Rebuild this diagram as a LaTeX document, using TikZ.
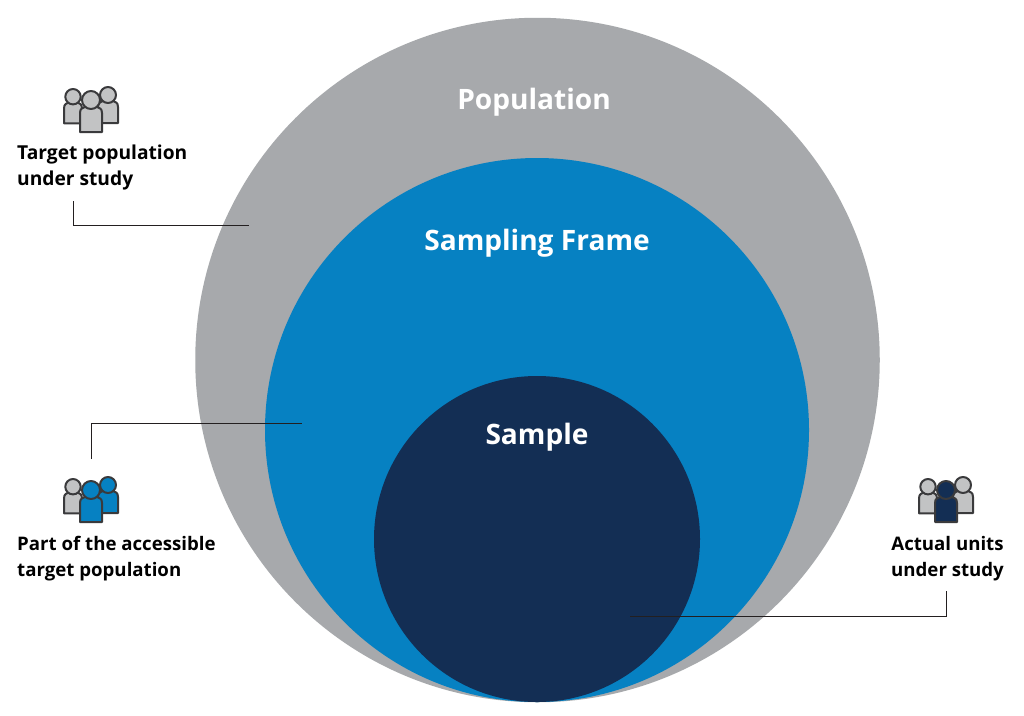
\documentclass[tikz,border=0pt]{standalone}
\usepackage{fontspec}
\setmainfont{Open Sans}
\definecolor{popgray}{HTML}{A7A9AC}
\definecolor{frameblue}{HTML}{0681C2}
\definecolor{samplenavy}{HTML}{132E54}
\definecolor{iconfill}{HTML}{C2C3C4}
\definecolor{iconline}{HTML}{3A3A3C}
\definecolor{leader}{HTML}{231F20}
\tikzset{
  circlebig/.style={circle,draw=none,inner sep=0pt,outer sep=0pt},
  title/.style={text=white,font=\fontsize{28.1}{32}\selectfont\bfseries,anchor=base,inner sep=0pt},
  caption/.style={text=black,font=\fontsize{19.2}{26}\selectfont\bfseries,inner sep=0pt,anchor=north west},
  captionsmall/.style={caption,font=\fontsize{18.65}{26}\selectfont\bfseries},
  leaderline/.style={draw=leader,line width=1pt},
  iconpart/.style={draw=iconline,line width=2pt,line join=round},
}
\newcommand{\oneperson}[6]{% x y headr halfwidth color bodyheight
  \begin{scope}[shift={(#1,#2)}]
    \path[iconpart,fill=#5] (-#4,#3+#6) -- (-#4,#3+4) .. controls (-#4,#3-1) and (-#4+3,#3-1) .. (-#4+5,#3-2)
      -- (#4-5,#3-2) .. controls (#4-3,#3-1) and (#4,#3-1) .. (#4,#3+4) -- (#4,#3+#6) -- cycle;
    \path[iconpart,fill=#5] (0,0) circle[radius=#3];
  \end{scope}}
\newcommand{\peopleicon}[5]{% x y left right middle
  \begin{scope}[shift={(#1,#2)}]
    \oneperson{23}{16.7}{7.7}{9}{#3}{19}
    \oneperson{58}{15}{8}{10}{#4}{20}
    \oneperson{41}{20}{9}{11}{#5}{23}
  \end{scope}}
\begin{document}
\begin{tikzpicture}[x=1pt,y=-1pt]
\useasboundingbox (0,0) rectangle (1024,715);
\fill[white] (0,0) rectangle (1024,715);
\node[circlebig,fill=popgray,minimum size=684.5pt] (pop) at (537.5,360) {};
\node[circlebig,fill=frameblue,minimum size=544pt] (frame) at (537,430) {};
\node[circlebig,fill=samplenavy,minimum size=326pt] (sample) at (537,539) {};
\node[title] (tpop) at (534,109) {Population};
\node[title] (tframe) at (537,250) {Sampling Frame};
\node[title] (tsample) at (537,444) {Sample};
\peopleicon{50}{80}{iconfill}{iconfill}{iconfill}
\peopleicon{50}{470}{iconfill}{frameblue}{frameblue}
\peopleicon{905}{470}{iconfill}{iconfill}{samplenavy}
\node[caption,align=left] (c1) at (17,144.5) {Target population\\under study};
\node[captionsmall,align=left] (c2) at (17,536.5) {Part of the accessible\\target population};
\node[captionsmall,align=center,anchor=north] (c3) at (947.5,536.5) {Actual units\\under study};
\coordinate (a1) at (73,201);
\coordinate (b1) at (249,225);
\coordinate (a2) at (91,459);
\coordinate (b2) at (302,423);
\coordinate (a3) at (946,591);
\coordinate (b3) at (630,616);
\draw[leaderline] (a1) |- (b1);
\draw[leaderline] (a2) |- (b2);
\draw[leaderline] (a3) |- (b3);
\end{tikzpicture}
\end{document}
